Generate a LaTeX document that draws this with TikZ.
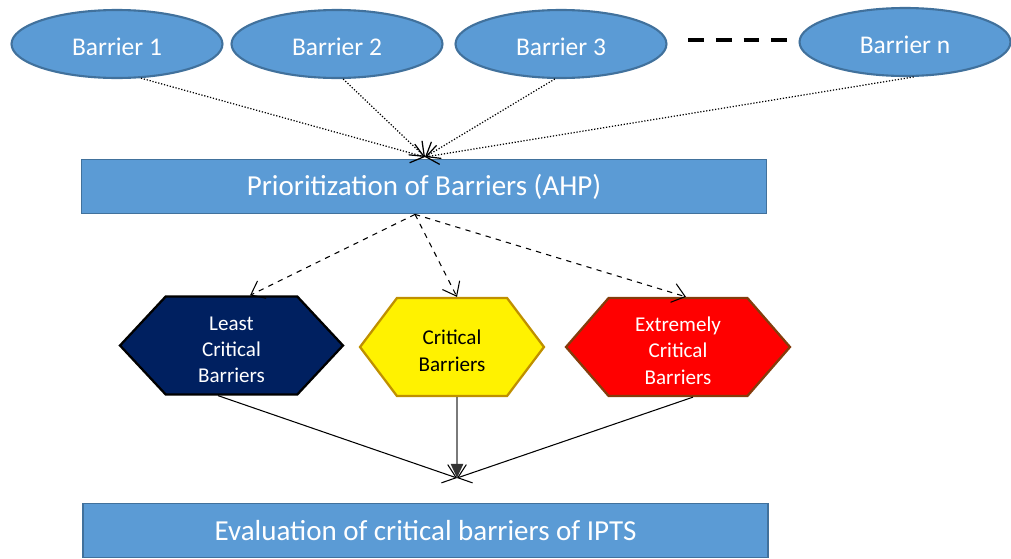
\documentclass[tikz,border=0pt]{standalone}
\usepackage{fontspec}
\setmainfont{Carlito}
\usetikzlibrary{shapes.geometric,shapes.symbols,arrows.meta}
\definecolor{barblue}{HTML}{5B9BD5}
\definecolor{barline}{HTML}{41719C}
\definecolor{leastfill}{HTML}{002060}
\definecolor{critline}{HTML}{BF9000}
\definecolor{extline}{HTML}{843C0C}
\newcommand{\toprule}{\rule{0pt}{12.5pt}}

\begin{document}
\begin{tikzpicture}[x=0.02cm,y=-0.02cm,>={Straight Barb[length=7pt,width=11pt]},
    barrier node/.style={ellipse,draw=barline,fill=barblue,line width=1.2pt,minimum width=4.22cm,minimum height=1.36cm,text=white,execute at begin node=\rule{0pt}{13.6pt},font=\fontsize{14.5}{17}\selectfont},
    stage node/.style={rectangle,draw=barline,fill=barblue,line width=1pt,minimum width=13.7cm,minimum height=1.08cm,text=white,font=\fontsize{16.5}{20}\selectfont},
    level node/.style={signal,signal to=east and west,line width=1.3pt,minimum height=1.96cm,align=center,font=\fontsize{12}{15}\selectfont}]
                \useasboundingbox (0,0) rectangle (1011,558);
                \node[barrier node] (b1) at (117,44) {Barrier 1};
                \node[barrier node] (b2) at (337,44) {Barrier 2};
                \node[barrier node] (b3) at (561,44) {Barrier 3};
                \node[barrier node] (bn) at (905,42) {Barrier n};
                \node[stage node] (ahp) at (424,186.5) {Prioritization of Barriers (AHP)};
                \node[level node,fill=leastfill,draw=black,text=white,minimum width=4.46cm,signal pointer angle=94] (least) at (231.5,345.5) {\toprule Least\\Critical\\Barriers};
                \node[level node,fill=yellow,draw=critline,text=black,minimum width=3.68cm,signal pointer angle=106] (crit) at (452,347) {\toprule Critical\\Barriers};
                \node[level node,fill=red,draw=extline,text=white,minimum width=4.48cm,signal pointer angle=98] (ext) at (678,347) {\toprule Extremely\\Critical\\Barriers};
                \node[stage node] (eval) at (425.5,530.5) {Evaluation of critical barriers of IPTS};
                \coordinate (ahp in) at (425,157);
                \coordinate (eval in) at (457,478);

                \draw[line width=2.6pt,dash pattern=on 9pt off 6.8pt] (688,40) -- (790,40);

                \path[->,densely dotted,line width=0.7pt]
                    (b1.-55) edge (ahp in)
                    (b2.-80) edge (ahp in)
                    (b3.-100) edge (ahp in)
                    (bn.-76) edge (ahp in)
                    ;
                \path[->,dashed,line width=0.6pt]
                    ([xshift=-0.18cm]ahp.south) edge ([xshift=0.37cm]least.north)
                    ([xshift=-0.18cm]ahp.south) edge ([xshift=0.1cm]crit.north)
                    ([xshift=-0.18cm]ahp.south) edge ([xshift=0.16cm]ext.north)
                    ;
                \path[->,line width=0.6pt]
                    ([xshift=-0.27cm]least.south) edge (eval in)
                    ([xshift=0.3cm]ext.south) edge (eval in)
                    ([xshift=0.1cm]crit.south) edge [-{Triangle[length=8pt,width=7pt]},black!80,line width=0.8pt] (eval in)
                    ;
            \end{tikzpicture}
\end{document}
